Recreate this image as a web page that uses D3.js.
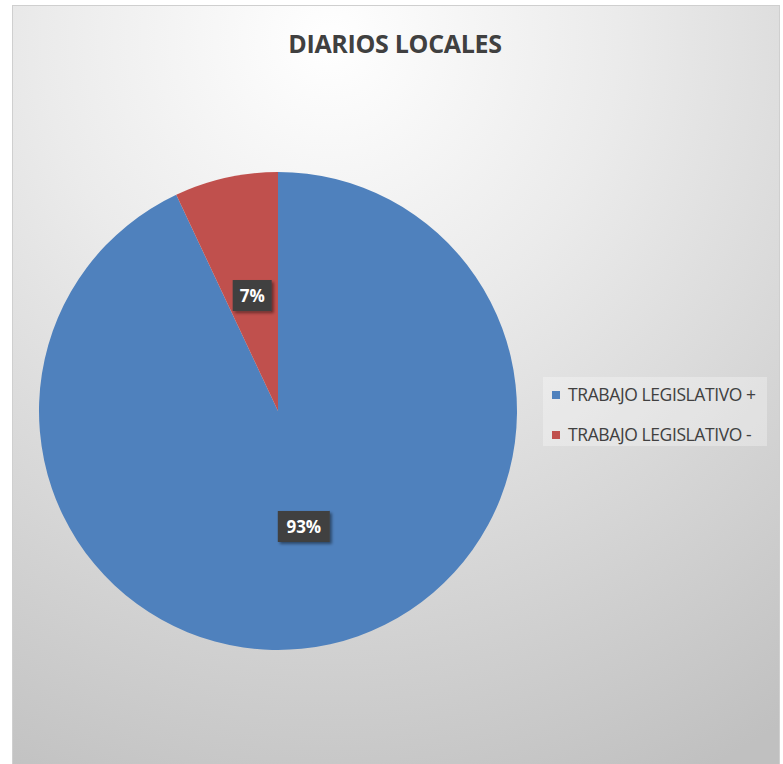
<!DOCTYPE html>
<html>
<head>
<meta charset="utf-8">
<script src="https://cdn.jsdelivr.net/npm/d3@7"></script>
<style>
  body { margin: 0; background: #ffffff; }
  svg { display: block; }
</style>
</head>
<body>
<script>
var width = 783;
var height = 764;

// data
var categories = ["TRABAJO LEGISLATIVO +", "TRABAJO LEGISLATIVO -"];
var values = [93, 7];
var labels = ["93%", "7%"];
var colours = ["#4F81BD", "#C0504D"];
var title = "DIARIOS LOCALES";

var svg = d3.select("body").append("svg")
    .attr("width", width)
    .attr("height", height);

var defs = svg.append("defs");

var grad = defs.append("radialGradient")
    .attr("id", "bg")
    .attr("gradientUnits", "userSpaceOnUse")
    .attr("cx", 330).attr("cy", 40).attr("r", 820);
grad.append("stop").attr("offset", "0").attr("stop-color", "#ffffff");
grad.append("stop").attr("offset", "0.35").attr("stop-color", "#ebebeb");
grad.append("stop").attr("offset", "1").attr("stop-color", "#c0c0c0");

var shadow = defs.append("filter").attr("id", "shadow")
    .attr("x", "-30%").attr("y", "-30%").attr("width", "160%").attr("height", "160%");
shadow.append("feDropShadow")
    .attr("dx", 2).attr("dy", 2).attr("stdDeviation", 1.5)
    .attr("flood-color", "#000").attr("flood-opacity", 0.45);

// chart frame
svg.append("rect")
    .attr("x", 12.5).attr("y", 5.5)
    .attr("width", 767).attr("height", 770)
    .attr("fill", "url(#bg)")
    .attr("stroke", "#cfcfcf")
    .attr("stroke-width", 1);

svg.append("text")
    .attr("x", 395)
    .attr("y", 53)
    .attr("text-anchor", "middle")
    .style("font-family", "'Open Sans', sans-serif")
    .style("font-weight", "bold")
    .style("font-size", "25px")
    .style("letter-spacing", "-0.3px")
    .style("fill", "#404040")
    .text(title);

var cx = 278, cy = 411, r = 239;

var pie = d3.pie().sort(null).value(function (d) { return d; });
var arcs = pie(values);
var arc = d3.arc().innerRadius(0).outerRadius(r);

var g = svg.append("g").attr("transform", "translate(" + cx + "," + cy + ")");

g.selectAll("path.slice")
    .data(arcs)
    .enter().append("path")
    .attr("class", "slice")
    .attr("d", arc)
    .attr("fill", function (d, i) { return colours[i]; });

// data labels
var labelArc = d3.arc().innerRadius(r * 0.495).outerRadius(r * 0.495);

var lab = g.selectAll("g.lab")
    .data(arcs)
    .enter().append("g")
    .attr("class", "lab")
    .attr("transform", function (d) {
        var c = labelArc.centroid(d);
        return "translate(" + c[0] + "," + c[1] + ")";
    });

lab.append("rect")
    .attr("x", function (d, i) { return i === 0 ? -26 : -19.5; })
    .attr("y", -15.5)
    .attr("width", function (d, i) { return i === 0 ? 52 : 39; })
    .attr("height", 31)
    .attr("fill", "#404040")
    .attr("filter", "url(#shadow)");

lab.append("text")
    .attr("text-anchor", "middle")
    .attr("dy", "0.36em")
    .style("font-family", "'Open Sans', sans-serif")
    .style("font-weight", "bold")
    .style("font-size", "17px")
    .style("fill", "#ffffff")
    .text(function (d, i) { return labels[i]; });

// legend
var legend = svg.append("g").attr("transform", "translate(543,377)");
legend.append("rect")
    .attr("width", 224).attr("height", 69)
    .attr("fill", "#ffffff").attr("fill-opacity", 0.3);

var item = legend.selectAll("g.item")
    .data(categories)
    .enter().append("g")
    .attr("class", "item")
    .attr("transform", function (d, i) { return "translate(9," + (14 + i * 40) + ")"; });

item.append("rect")
    .attr("width", 8).attr("height", 8)
    .attr("fill", function (d, i) { return colours[i]; });

item.append("text")
    .attr("x", 16)
    .attr("y", 4)
    .attr("dy", "0.36em")
    .style("font-family", "'Open Sans', sans-serif")
    .style("font-size", "17.5px")
    .style("letter-spacing", "-0.4px")
    .style("fill", "#404040")
    .text(function (d) { return d; });
</script>
</body>
</html>
